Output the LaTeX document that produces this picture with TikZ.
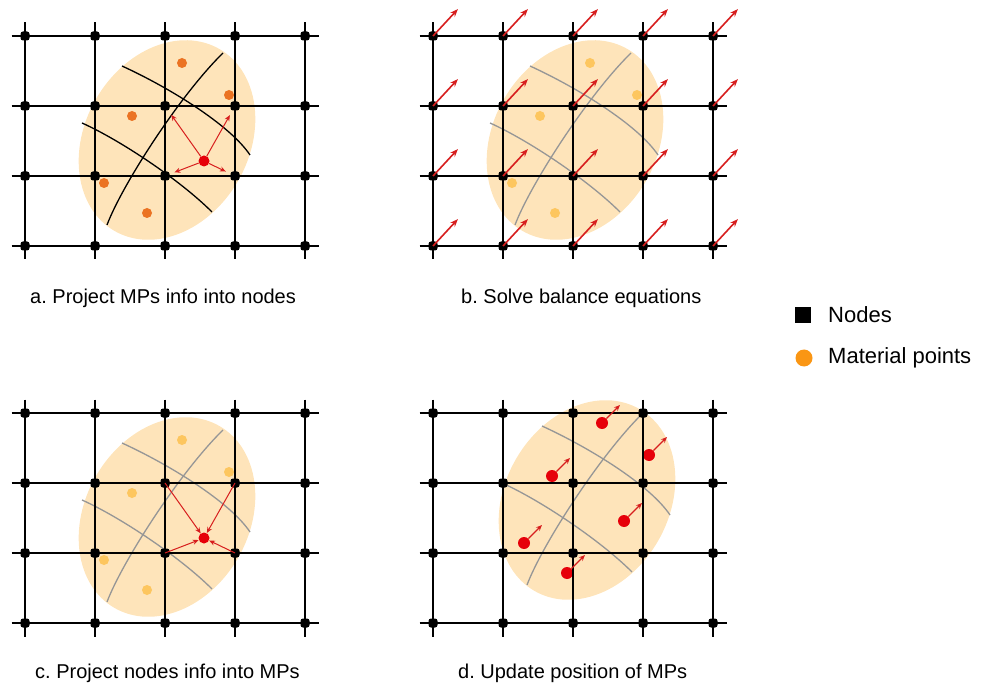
\documentclass[tikz,border=0pt]{standalone}
\usepackage{fontspec}
\setmainfont{Liberation Sans}
\usetikzlibrary{arrows.meta}

\definecolor{bodyfill}{RGB}{254,228,186}
\definecolor{mpdark}{RGB}{235,115,35}
\definecolor{mplight}{RGB}{253,198,95}
\definecolor{mporange}{RGB}{250,150,20}
\definecolor{mpred}{RGB}{230,0,10}
\definecolor{arrowred}{RGB}{215,30,30}
\definecolor{curvegray}{RGB}{150,150,150}

% material body: ellipse, deformed cell lines, 5 material points
\newcommand{\mpbody}[3]{%
  \fill[bodyfill] (167,140) ellipse [x radius=105pt, y radius=82pt, rotate=60];
  \draw[#2, line width=1.3pt] (122,66) .. controls (170,88) and (230,125) .. (250,155);
  \draw[#2, line width=1.3pt] (82,123) .. controls (120,140) and (180,180) .. (212,212);
  \draw[#2, line width=1.3pt] (107,225) .. controls (122,185) and (180,95) .. (223,53);
  \node[#3] (#1-p1) at (182,63) {};
  \node[#3] (#1-p2) at (229,95) {};
  \node[#3] (#1-p3) at (132,116) {};
  \node[#3] (#1-p4) at (104,183) {};
  \node[#3] (#1-p5) at (147,213) {};
}

% background grid: 5 x 4 nodes
\newcommand{\mpgrid}[1]{%
  \foreach \i in {0,...,4}
    \foreach \j in {0,...,3}
      \node[gdot] (#1-\i-\j) at (25+70*\i, 36+70*\j) {};
  \foreach \j in {0,...,3}
    \draw[gline] (#1-0-\j.center) -- (#1-4-\j.center);
  \foreach \i in {0,...,4}
    \draw[gline] (#1-\i-0.center) -- (#1-\i-3.center);
}

\begin{document}
\frenchspacing
\begin{tikzpicture}[x=1pt, y=-1pt,
  gdot/.style={rectangle, rounded corners=2.5pt, fill=black, minimum size=9pt, inner sep=0pt},
  gline/.style={line width=2.7pt, black, shorten <=-13.5pt, shorten >=-13.5pt},
  ddot/.style={circle, fill=mpdark, inner sep=0pt, minimum size=10pt},
  ldot/.style={circle, fill=mplight, inner sep=0pt, minimum size=10pt},
  rdot/.style={circle, fill=mpred, inner sep=0pt, minimum size=11pt},
  bigrdot/.style={circle, fill=mpred, inner sep=0pt, minimum size=12pt},
  parrow/.style={-{Stealth[length=6pt, width=5pt]}, arrowred, line width=1pt},
  narrow/.style={-{Stealth[length=8pt, width=6pt]}, arrowred, line width=1.6pt},
  darrow/.style={-{Stealth[length=6pt, width=5pt]}, arrowred, line width=1.3pt},
  caption/.style={anchor=west, inner sep=0pt, font=\fontsize{20}{24}\selectfont},
  legtext/.style={anchor=west, inner sep=0pt, font=\fontsize{22}{26}\selectfont}
]
  \useasboundingbox (0,0) rectangle (982,684);

  % === a. MPs -> nodes ===
  \mpbody{a}{black}{ddot}
  \mpgrid{a}
  \node[rdot] (a-r) at (204,161) {};
  \foreach \i/\j in {2/1, 3/1, 2/2, 3/2}
    \draw[parrow, shorten >=5pt] (a-r) -- (a-\i-\j);
  \node[caption] (cap-a) at (30,298) {a. Project MPs info into nodes};

  % === b. balance equations on nodes ===
  \begin{scope}[shift={(408,0)}]
    \mpbody{b}{curvegray}{ldot}
    \mpgrid{b}
    \foreach \i in {0,...,4}
      \foreach \j in {0,...,3} {
        \coordinate (b-t-\i-\j) at (50+70*\i, 9+70*\j);
        \draw[narrow] (b-\i-\j.center) -- (b-t-\i-\j);
      }
    \node[caption] (cap-b) at (53,298) {b. Solve balance equations};
  \end{scope}

  % === c. nodes -> MPs ===
  \begin{scope}[shift={(0,377)}]
    \mpbody{c}{curvegray}{ldot}
    \mpgrid{c}
    \node[rdot] (c-r) at (204,161) {};
    \foreach \i/\j in {2/1, 3/1, 2/2, 3/2}
      \draw[parrow] (c-\i-\j.center) -- (c-r);
    \node[caption] (cap-c) at (35,296) {c. Project nodes info into MPs};
  \end{scope}

  % === d. MPs moved ===
  \begin{scope}[shift={(408,377)}]
    \begin{scope}[shift={(12,-17)}]
      \mpbody{d}{curvegray}{bigrdot}
    \end{scope}
    \mpgrid{d}
    \begin{scope}[shift={(12,-17)}]
      \node[bigrdot] (d-p6) at (204,161) {};
    \end{scope}
    \foreach \k in {1,...,6} {
      \path (d-p\k.center) ++(18,-18) coordinate (d-t\k);
      \draw[darrow] (d-p\k) -- (d-t\k);
    }
    \node[caption] (cap-d) at (50,296) {d. Update position of MPs};
  \end{scope}

  % === legenda ===
  \node[rectangle, fill=black, minimum size=16pt, inner sep=0pt] (leg-n) at (803,315) {};
  \node[legtext] (leg-nt) at (828,315) {Nodes};
  \node[circle, fill=mporange, minimum size=17pt, inner sep=0pt] (leg-m) at (804,358) {};
  \node[legtext] (leg-mt) at (828,358) {Material points};
\end{tikzpicture}
\end{document}
